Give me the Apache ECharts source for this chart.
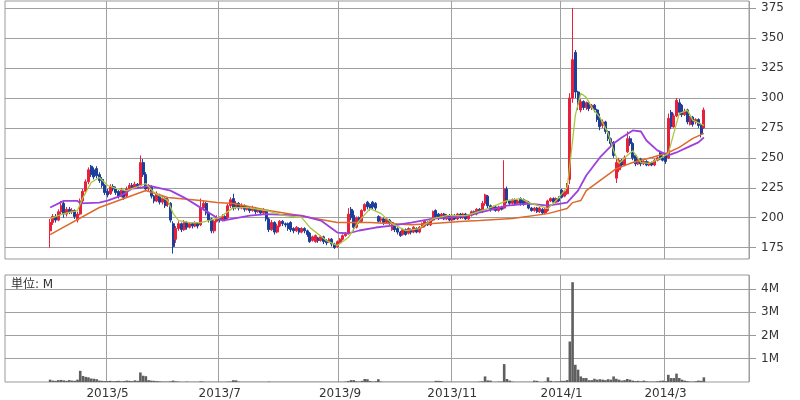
<!DOCTYPE html>
<html><head><meta charset="utf-8">
<script src="https://cdn.jsdelivr.net/npm/echarts@6/dist/echarts.min.js"></script>
<style>html,body{margin:0;padding:0;background:#fff}#c{width:800px;height:400px}</style>
</head><body><div id="c"></div>
<script>
// Japanese market holidays (non-trading weekdays)
const holidays = ['2013/3/20','2013/4/29','2013/5/3','2013/5/6','2013/7/15','2013/9/16','2013/9/23','2013/10/14','2013/11/4','2013/12/23','2013/12/31','2014/1/1','2014/1/2','2014/1/3','2014/1/13','2014/2/11','2014/3/21','2014/4/29'];
const axisStart = [2013, 3, 7];   // first (empty) category of the window
const axisCount = 272;            // categories in the window
const dataOffset = 16;            // first category with data (2013/4/1)

// [open, close, low, high]
const ohlcApr = [[189,196,175,199],[196,201,194,203],[201,198,196,203],[198,205,197,207],[205,210,203,214],[212,203,200,214],[203,207,201,209],[207,205,203,209],[205,206,203,208],[206,201,199,207],[198,203,196,205],[203,214,202,216],[214,222,212,224],[222,230,220,232],[230,240,228,242],[243,236,234,244],[240,234,232,242],[241,235,233,243],[236,231,229,238],[232,227,225,234],[227,221,219,228]];
const ohlcMay = [[222,219,217,224],[220,226,219,228],[226,224,222,228],[224,221,219,226],[222,218,216,223],[218,223,217,225],[222,217,215,223],[218,224,217,226],[224,227,223,229],[227,225,224,229],[225,228,224,230],[228,226,225,229],[227,246,226,252],[246,236,234,249],[236,224,222,238],[224,226,222,228],[226,218,216,227],[218,214,212,219],[214,220,213,222],[219,213,211,220],[213,216,211,218]];
const ohlcJun = [[216,210,208,217],[211,215,209,217],[212,198,196,213],[195,176,170,197],[182,191,179,193],[191,195,189,197],[195,190,188,196],[190,196,189,198],[196,192,190,197],[192,195,191,196],[195,193,191,196],[193,195,192,197],[195,193,191,196],[194,208,193,216],[208,212,206,214],[212,204,202,213],[204,198,196,205],[199,189,187,200],[189,197,187,198],[197,200,196,202]];
const ohlcJul = [[200,198,196,201],[198,201,197,203],[201,199,197,202],[200,210,199,212],[210,215,208,217],[216,208,206,220],[209,212,207,214],[212,208,206,213],[208,210,207,212],[210,207,205,211],[207,208,206,210],[208,206,204,209],[206,208,205,210],[208,205,203,209],[205,207,204,208],[206,204,202,207],[204,206,203,208],[206,199,197,207],[199,190,188,200],[190,196,189,198],[196,188,186,197],[188,193,187,195]];
const ohlcAug = [[193,197,192,198],[197,195,193,198],[195,194,192,196],[195,191,189,196],[196,190,188,197],[191,189,187,192],[189,192,188,193],[191,188,186,192],[188,191,187,192],[191,189,187,192],[189,186,184,190],[187,180,179,188],[181,184,180,185],[180,185,179,186],[183,181,179,184],[181,184,180,185],[184,180,178,185],[181,179,177,182],[180,182,179,183],[182,178,176,183],[178,175,174,179],[176,180,175,181]];
const ohlcSep = [[179,182,178,183],[182,185,181,186],[185,187,184,188],[187,203,186,208],[207,200,198,209],[202,192,189,206],[192,200,191,201],[200,197,195,201],[197,206,196,207],[206,211,205,212],[213,209,207,214],[211,208,206,212],[213,209,207,214],[212,208,206,213],[201,197,196,202],[198,199,196,201],[199,196,194,200],[196,199,195,200],[198,196,194,199]];
const ohlcOct = [[190,196,189,197],[194,190,188,195],[191,188,186,192],[188,185,184,189],[186,190,185,191],[190,186,185,191],[187,191,186,192],[190,188,186,191],[188,192,187,193],[191,188,187,192],[188,192,187,193],[192,195,191,196],[193,197,192,198],[196,194,193,197],[194,198,193,199],[198,205,197,206],[206,201,200,207],[203,200,198,204],[200,203,199,204],[203,199,198,204],[199,202,198,203],[202,198,197,203]];
const ohlcNov = [[198,202,197,203],[202,199,198,203],[199,203,198,204],[203,200,199,204],[200,203,199,204],[203,199,198,204],[199,202,198,203],[202,205,201,206],[205,203,202,206],[203,207,202,208],[207,205,204,208],[205,212,204,214],[212,219,210,220],[218,210,208,219],[210,207,205,211],[207,209,206,210],[209,206,205,210],[206,209,205,210],[209,207,206,210],[208,224,207,248]];
const ohlcDec = [[224,214,212,226],[214,212,210,215],[212,215,211,216],[215,212,210,216],[212,214,211,215],[216,212,210,217],[215,211,210,216],[212,214,211,215],[213,208,207,214],[208,206,205,209],[206,208,205,209],[208,205,204,209],[205,208,204,209],[207,204,203,208],[204,207,203,208],[206,214,205,215],[214,216,213,217],[216,213,212,217],[213,216,212,217],[216,214,213,218]];
const ohlcJan = [[223,217,216,224],[218,222,217,223],[220,227,219,229],[232,300,228,304],[300,332,296,375],[338,305,300,340],[305,295,290,306],[290,297,288,299],[297,292,290,298],[292,296,290,297],[296,291,289,297],[292,294,290,295],[294,290,288,295],[290,282,280,291],[283,276,273,287],[277,280,275,282],[280,272,270,281],[272,266,264,273],[266,262,260,267]];
const ohlcFeb = [[263,252,250,264],[233,246,229,249],[240,248,238,250],[247,244,242,249],[244,250,243,252],[255,266,254,272],[266,262,260,268],[262,250,248,263],[252,245,243,253],[245,249,244,250],[249,245,243,250],[245,247,244,248],[247,244,243,248],[244,246,243,247],[246,244,243,247],[244,248,243,249],[248,250,247,251],[254,249,248,256],[250,248,247,252]];
const ohlcMar = [[253,247,245,254],[250,283,249,287],[288,276,274,290],[276,285,275,287],[285,298,284,300],[296,288,286,299],[294,286,284,295],[286,289,285,291],[290,280,278,291],[278,284,277,285],[284,278,276,285],[280,282,278,283],[282,277,275,283],[277,270,267,279],[275,290,274,292]];

// volume, millions of shares
const volApr = [0.10,0.06,0.05,0.08,0.09,0.07,0.05,0.08,0.06,0.05,0.10,0.48,0.26,0.22,0.20,0.15,0.14,0.12,0.06,0.05,0.04];
const volMay = [0.04,0.05,0.03,0.04,0.05,0.03,0.04,0.06,0.05,0.04,0.07,0.05,0.41,0.27,0.25,0.08,0.06,0.05,0.04,0.03,0.02];
const volJun = [0.02,0.02,0.03,0.06,0.03,0.02,0.01,0.01,0.02,0.01,0.01,0.01,0.01,0.03,0.02,0.01,0.01,0.01,0.01,0.01];
const volJul = [0.01,0.01,0.01,0.02,0.02,0.08,0.07,0.02,0.01,0.01,0.01,0.01,0.01,0.01,0.01,0.01,0.01,0.01,0.02,0.01,0.01,0.01];
const volAug = [0.01,0.01,0.01,0.01,0.01,0.01,0.01,0.01,0.01,0.01,0.01,0.01,0.01,0.01,0.01,0.01,0.01,0.01,0.01,0.01,0.01,0.01];
const volSep = [0.01,0.01,0.02,0.04,0.08,0.08,0.03,0.02,0.05,0.13,0.12,0.04,0.02,0.03,0.12,0.02,0.01,0.01,0.01];
const volOct = [0.01,0.01,0.01,0.01,0.01,0.01,0.01,0.01,0.01,0.01,0.01,0.01,0.01,0.01,0.01,0.01,0.05,0.05,0.04,0.01,0.01,0.01];
const volNov = [0.01,0.01,0.01,0.01,0.01,0.01,0.01,0.01,0.01,0.01,0.02,0.03,0.24,0.07,0.06,0.01,0.01,0.02,0.02,0.77];
const volDec = [0.13,0.06,0.02,0.01,0.01,0.01,0.01,0.01,0.01,0.01,0.06,0.05,0.01,0.01,0.02,0.20,0.05,0.02,0.03,0.03];
const volJan = [0.05,0.05,0.08,1.74,4.29,0.74,0.53,0.24,0.17,0.17,0.08,0.08,0.14,0.10,0.12,0.10,0.08,0.12,0.10];
const volFeb = [0.24,0.14,0.10,0.06,0.08,0.13,0.10,0.06,0.04,0.05,0.03,0.06,0.03,0.02,0.02,0.02,0.03,0.05,0.06];
const volMar = [0.04,0.31,0.17,0.17,0.36,0.17,0.10,0.06,0.04,0.02,0.02,0.03,0.06,0.05,0.20];

// moving averages: [trading-day index from 2013/4/1, value]
const maShort = [[0,199],[1,200.1],[5,203.4],[10,206],[12,216.8],[15,229.4],[18,233.6],[21,226.9],[24,224.4],[28,222.7],[33,226.9],[35,228.5],[38,221],[43,214.3],[45,203.4],[47,197.6],[51,195.9],[55,195.9],[58,197.6],[62,200.1],[67,208.4],[72,208.4],[79,206],[86,201.8],[92,200.1],[95,191.7],[101,180.9],[105,176.7],[109,183.4],[113,197.6],[117,207.6],[121,203.4],[125,195.1],[130,189.2],[135,190.9],[140,199.3],[145,201.8],[152,201.8],[160,207.6],[167,214.3],[172,216],[175,212.6],[182,207.6],[185,214.3],[189,225.2],[190,243.6],[192,285.5],[194,304],[196,300.5],[198,292.2],[201,283.8],[204,270.4],[206,256.2],[208,245.3],[211,252],[213,256],[216,246],[219,245.3],[223,249.5],[226,253.7],[228,270.4],[230,287.1],[233,289.6],[235,281.3],[239,277.1]];
const maMid = [[0,208.5],[5,214],[10,214],[11,212],[18,212.6],[21,214.3],[26,218.5],[30,224.3],[33,225],[36,226.8],[44,222.6],[49,216.8],[55,208.4],[61,200],[63,197.6],[67,199.3],[73,201.8],[79,203],[92,201.8],[99,197.6],[105,187.6],[109,186.8],[113,189.3],[119,191.8],[125,193.4],[132,195.9],[140,199.3],[146,200.1],[152,201.8],[160,206],[167,210.1],[175,211.8],[182,210.1],[189,212.6],[193,222.6],[196,235.2],[201,250.3],[206,262],[209,267],[213,272.9],[216,272],[218,264.5],[222,256.2],[226,252],[229,254.5],[233,258.7],[237,262.9],[239,267]];
const maLong = [[0,185.9],[18,208.5],[33,221],[35,222.7],[43,216.8],[55,214.3],[61,212.6],[67,211.8],[80,206],[91,201.8],[105,195.9],[117,195.9],[132,194.2],[140,195.1],[150,196.8],[157,197.6],[169,199.3],[182,203.4],[189,207.6],[191,212.6],[194,214.3],[196,222.6],[201,231],[207,241],[213,246.1],[220,250.3],[226,254.5],[230,258.7],[235,266.2],[239,270.4]];

const priceTicks = [175,200,225,250,275,300,325,350,375];
const volumeTicks = [1,2,3,4];

function tradingDays(start, count) {
  const out = [];
  const d = new Date(start[0], start[1] - 1, start[2]);
  while (out.length < count) {
    const wd = d.getDay();
    const s = d.getFullYear() + '/' + (d.getMonth() + 1) + '/' + d.getDate();
    if (wd !== 0 && wd !== 6 && holidays.indexOf(s) < 0) out.push(s);
    d.setDate(d.getDate() + 1);
  }
  return out;
}
const categories = tradingDays(axisStart, axisCount);
const ohlc = [].concat(ohlcApr, ohlcMay, ohlcJun, ohlcJul, ohlcAug, ohlcSep, ohlcOct, ohlcNov, ohlcDec, ohlcJan, ohlcFeb, ohlcMar);
const vol = [].concat(volApr, volMay, volJun, volJul, volAug, volSep, volOct, volNov, volDec, volJan, volFeb, volMar);
const dataDates = categories.slice(dataOffset, dataOffset + ohlc.length);

function isMonthMark(i) {
  if (i === 0) return false;
  const m = +categories[i].split('/')[1];
  const pm = +categories[i - 1].split('/')[1];
  return m !== pm && m % 2 === 1;
}
function ymLabel(v) { const p = v.split('/'); return p[0] + '/' + p[1]; }

const gridColor = '#a0a0a0';
const textStyle = { color: '#333', fontSize: 12, fontFamily: 'DejaVu Sans, Noto Sans CJK JP, sans-serif' };

const chart = echarts.init(document.getElementById('c'), null, { renderer: 'canvas' });
chart.setOption({
  animation: false,
  backgroundColor: '#fff',
  textStyle: textStyle,
  dataset: [{ source: dataDates.map((d, i) => [d].concat(ohlc[i])) }],
  graphic: [{ type: 'text', left: 11, top: 279, style: { text: '単位: M', fill: '#333', font: '12px "DejaVu Sans", "Noto Sans CJK JP", sans-serif' } }],
  grid: [
    { left: 5, right: 51, top: 1, height: 258, show: true, borderColor: '#999', borderWidth: 1, backgroundColor: 'transparent' },
    { left: 5, right: 51, top: 275, height: 107, show: true, borderColor: '#999', borderWidth: 1, backgroundColor: 'transparent' }
  ],
  xAxis: [
    { type: 'category', gridIndex: 0, data: categories, boundaryGap: true,
      axisLine: { show: false }, axisTick: { show: false }, axisLabel: { show: false },
      splitLine: { show: true, interval: (i) => isMonthMark(i), lineStyle: { color: gridColor, width: 1 } } },
    { type: 'category', gridIndex: 1, data: categories, boundaryGap: true,
      axisLine: { show: false }, axisTick: { show: false },
      axisLabel: { show: true, interval: (i) => isMonthMark(i), formatter: ymLabel, color: '#333', fontSize: 12, margin: 6, fontFamily: 'DejaVu Sans' },
      splitLine: { show: true, interval: (i) => isMonthMark(i), lineStyle: { color: gridColor, width: 1 } } }
  ],
  yAxis: [
    { type: 'value', gridIndex: 0, position: 'right', min: 165.5, max: 381, scale: true,
      axisLine: { show: false },
      axisTick: { show: true, length: 7, customValues: priceTicks, lineStyle: { color: '#999' } },
      axisLabel: { customValues: priceTicks, color: '#333', fontSize: 12, margin: 12, fontFamily: 'DejaVu Sans' },
      splitLine: { show: true, lineStyle: { color: gridColor, width: 1 } } },
    { type: 'value', gridIndex: 1, position: 'right', min: 0, max: 4.6,
      axisLine: { show: false },
      axisTick: { show: true, length: 7, customValues: volumeTicks, lineStyle: { color: '#999' } },
      axisLabel: { customValues: volumeTicks, formatter: (v) => v + 'M', color: '#333', fontSize: 12, margin: 12, fontFamily: 'DejaVu Sans' },
      splitLine: { show: true, lineStyle: { color: gridColor, width: 1 } } }
  ],
  series: [
    { type: 'candlestick', xAxisIndex: 0, yAxisIndex: 0, datasetIndex: 0, encode: { x: 0, y: [1, 2, 3, 4] },
      barWidth: 2.5,
      itemStyle: { color: '#e8203c', color0: '#1c3f9c', borderColor: '#e8203c', borderColor0: '#1c3f9c', borderWidth: 1 } },
    { type: 'line', xAxisIndex: 0, yAxisIndex: 0, data: maLong.map(p => [dataDates[p[0]], p[1]]), showSymbol: false, symbol: 'none',
      lineStyle: { color: '#dd6a2a', width: 1.5 }, z: 3 },
    { type: 'line', xAxisIndex: 0, yAxisIndex: 0, data: maMid.map(p => [dataDates[p[0]], p[1]]), showSymbol: false, symbol: 'none',
      lineStyle: { color: '#9e40dc', width: 1.8 }, z: 3 },
    { type: 'line', xAxisIndex: 0, yAxisIndex: 0, data: maShort.map(p => [dataDates[p[0]], p[1]]), showSymbol: false, symbol: 'none',
      lineStyle: { color: '#a8c83c', width: 1.3 }, z: 3 },
    { type: 'bar', xAxisIndex: 1, yAxisIndex: 1, data: dataDates.map((d, i) => [d, vol[i]]),
      barWidth: 2.6, itemStyle: { color: '#5f5f5f' } }
  ]
});
</script></body></html>
